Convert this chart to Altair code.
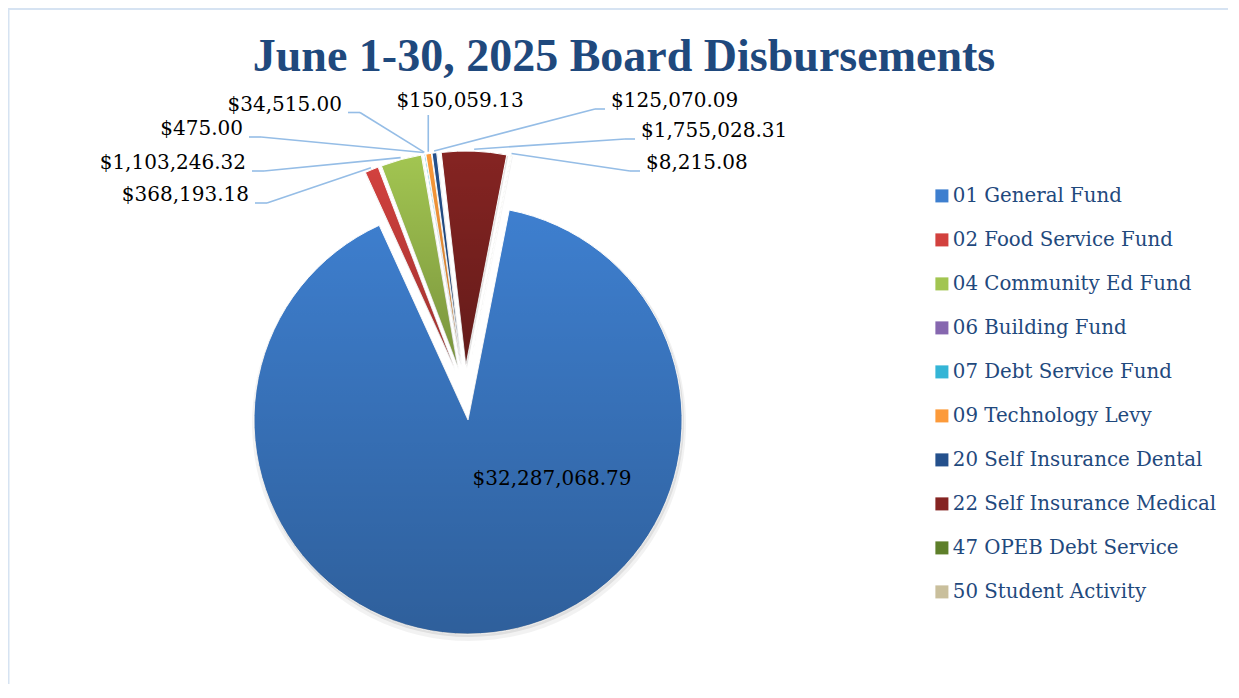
import math
import altair as alt
import pandas as pd

# ---------------- data ----------------
TITLE = "June 1-30, 2025 Board Disbursements"
FUNDS = [
    "01 General Fund", "02 Food Service Fund", "04 Community Ed Fund",
    "06 Building Fund", "07 Debt Service Fund", "09 Technology Levy",
    "20 Self Insurance Dental", "22 Self Insurance Medical",
    "47 OPEB Debt Service", "50 Student Activity",
]
AMOUNTS = [32287068.79, 368193.18, 1103246.32, 475.00, 34515.00,
           150059.13, 125070.09, 1755028.31, 8215.08, 0.0]

# ---------------- styles / layout ----------------
COLORS = ["#3E7FCF", "#D2413E", "#A2C551", "#8667AF", "#34B5D6",
          "#FC9A3A", "#24508C", "#852422", "#5E7F2A", "#C9BF9C"]
LABEL_SIDE = ["inside", "left", "left", "left", "left", "top",
              "right", "right", "right", "none"]
LABEL_X = [544, 241, 238, 235, 334, 452, 603, 633, 638, 0]
LABEL_Y = [471, 187, 155, 121, 96.5, 93, 93, 123, 155, 0]

W, H = 1220, 676
TOTAL = sum(AMOUNTS)
A0 = math.radians(11.1)          # angle of first slice
R = 214                          # pie radius
CX, CY = 456.8, 384.6            # pie centre
D = 27.6                         # explosion distance
TEXT_FONT = "DejaVu Serif"
NAVY = "#1F497D"

df = pd.DataFrame({
    "fund": FUNDS, "amount": AMOUNTS, "idx": list(range(len(FUNDS))),
    "side": LABEL_SIDE, "lx": LABEL_X, "ly": LABEL_Y,
})

base = (
    alt.Chart(df)
    .transform_window(cum="sum(amount)", sort=[alt.SortField("idx")], frame=[None, 0])
    .transform_calculate(t0="datum.cum - datum.amount")
    .transform_calculate(mid=f"{A0} + 2*PI*(datum.cum - datum.amount/2)/{TOTAL}")
    .transform_calculate(px=f"{CX} + {D}*sin(datum.mid)")
    .transform_calculate(py=f"{CY} - {D}*cos(datum.mid)")
    .transform_calculate(ax=f"datum.px + {R + 2}*sin(datum.mid)")
    .transform_calculate(ay=f"datum.py - {R + 2}*cos(datum.mid)")
    .transform_filter("datum.amount > 0")
)

theta_scale = alt.Scale(domain=[0, TOTAL], range=[A0, A0 + 2 * math.pi])
pos = dict(
    x=alt.X("px:Q", scale=None, axis=None),
    y=alt.Y("py:Q", scale=None, axis=None),
    theta=alt.Theta("t0:Q", scale=theta_scale, stack=None),
    theta2=alt.Theta2("cum:Q"),
)

shadow1 = base.mark_arc(outerRadius=R + 3, fill="black", opacity=0.05,
                        xOffset=1, yOffset=4).encode(**pos)
shadow2 = base.mark_arc(outerRadius=R + 1, fill="black", opacity=0.08,
                        xOffset=1, yOffset=2).encode(**pos)

main = base.mark_arc(outerRadius=R, stroke="white", strokeWidth=1).encode(
    **pos,
    color=alt.Color(
        "fund:N",
        scale=alt.Scale(domain=FUNDS, range=COLORS),
        sort=FUNDS,
        legend=alt.Legend(
            orient="none", legendX=924, legendY=178, title=None,
            symbolType="square", symbolSize=170, symbolStrokeWidth=0,
            labelFont=TEXT_FONT, labelFontSize=19.8, labelColor=NAVY,
            labelOffset=1, rowPadding=23, labelLimit=400,
        ),
    ),
)

shade = base.mark_arc(
    outerRadius=R,
    fill=alt.LinearGradient(
        gradient="linear",
        stops=[alt.GradientStop(color="rgba(0,0,0,0)", offset=0),
               alt.GradientStop(color="rgba(0,0,0,0.25)", offset=1)],
        x1=0, x2=0, y1=0, y2=1,
    ),
).encode(**pos)

# leader lines
lead = (
    base.transform_filter("datum.side == 'left' || datum.side == 'right' || datum.side == 'top'")
    .transform_calculate(
        sx="datum.side == 'left' ? datum.lx + 6 : (datum.side == 'right' ? datum.lx - 6 : datum.ax)")
    .transform_calculate(sy="datum.side == 'top' ? datum.ly + 14 : datum.ly + 8")
    .transform_calculate(
        ex="datum.side == 'left' ? datum.lx + 18 : (datum.side == 'right' ? datum.lx - 16 : datum.ax)")
)
LEADER = "#95BDE6"
lead1 = lead.mark_rule(color=LEADER, strokeWidth=1.6).encode(
    x=alt.X("sx:Q", scale=None, axis=None), y=alt.Y("sy:Q", scale=None, axis=None),
    x2="ex:Q", y2="sy:Q")
lead2 = lead.mark_rule(color=LEADER, strokeWidth=1.6).encode(
    x=alt.X("ex:Q", scale=None, axis=None), y=alt.Y("sy:Q", scale=None, axis=None),
    x2="ax:Q", y2="ay:Q")

def labels(side, align):
    return base.transform_filter(f"datum.side == '{side}'").mark_text(
        align=align, baseline="middle", font=TEXT_FONT, fontSize=20, color="#000000"
    ).encode(
        x=alt.X("lx:Q", scale=None, axis=None),
        y=alt.Y("ly:Q", scale=None, axis=None),
        text=alt.Text("amount:Q", format="$,.2f"),
    )

title = alt.Chart(pd.DataFrame({"t": [TITLE]})).mark_text(
    font="Liberation Serif", fontWeight="bold", fontSize=46, color=NAVY,
    align="center", baseline="alphabetic",
).encode(x=alt.value(616), y=alt.value(63), text="t:N")

frame_df = pd.DataFrame({"k": [0]})
border_left = alt.Chart(frame_df).mark_rule(color="#D6E3F2", strokeWidth=2).encode(
    x=alt.value(0.5), y=alt.value(0), y2=alt.value(H))
border_top = alt.Chart(frame_df).mark_rule(color="#D6E3F2", strokeWidth=2).encode(
    y=alt.value(1), x=alt.value(0), x2=alt.value(W))

chart = alt.layer(
    border_left, border_top, shadow1, shadow2, main, shade, lead1, lead2,
    labels("left", "right"), labels("right", "left"),
    labels("top", "center"), labels("inside", "center"), title,
).properties(
    width=W, height=H, autosize=alt.AutoSizeParams(type="none"), padding=0,
    background="white",
).configure_view(strokeOpacity=0)

chart.save("out.html", embed_options={"renderer": "svg", "actions": False})
